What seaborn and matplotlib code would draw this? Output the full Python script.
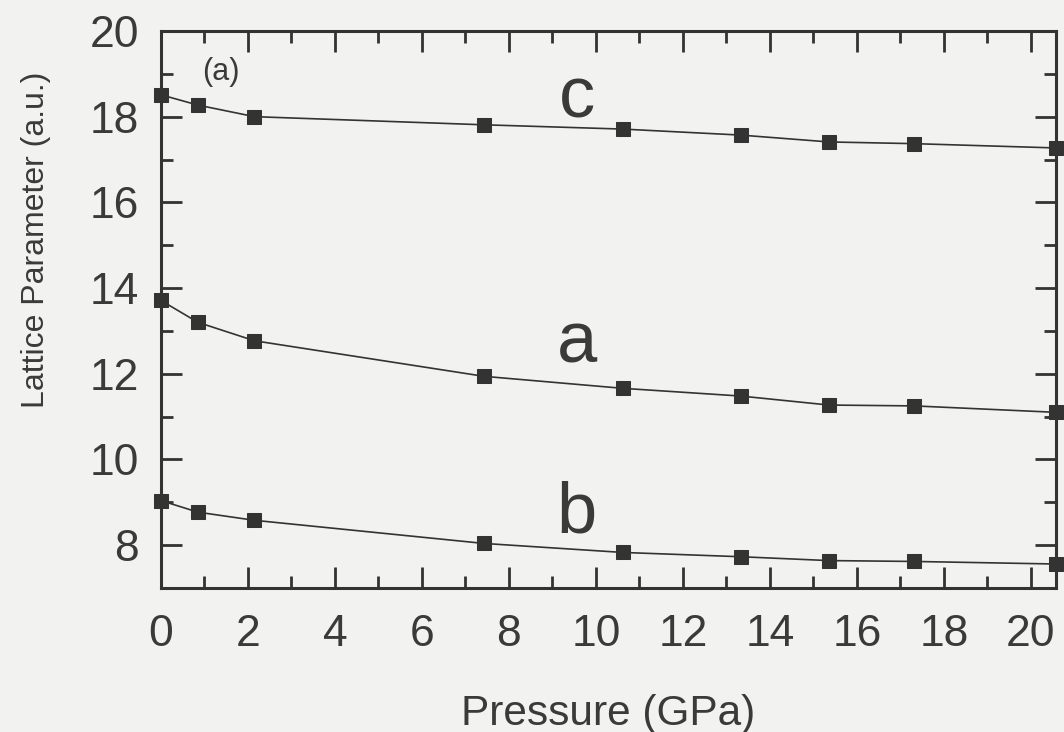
import matplotlib
matplotlib.use("Agg")
import matplotlib.pyplot as plt
import seaborn as sns
import pandas as pd
from matplotlib.ticker import MultipleLocator

# Data
pressure = [0.0, 0.85, 2.15, 7.43, 10.62, 13.33, 15.36, 17.32, 20.58]
lat_c = [18.51, 18.27, 18.00, 17.81, 17.71, 17.57, 17.41, 17.37, 17.27]
lat_a = [13.71, 13.20, 12.77, 11.94, 11.66, 11.48, 11.27, 11.25, 11.10]
lat_b = [9.04, 8.77, 8.58, 8.04, 7.83, 7.73, 7.64, 7.62, 7.56]
series_names = ["c", "a", "b"]
x_ticks = [0, 2, 4, 6, 8, 10, 12, 14, 16, 18, 20]
y_ticks = [8, 10, 12, 14, 16, 18, 20]

sns.set_theme(style="ticks")
plt.rcParams["font.family"] = ["Liberation Sans", "DejaVu Sans"]

ink = "#333333"
txt = "#3a3a3a"
bg = "#f2f2f0"

fig = plt.figure(figsize=(10.64, 7.32), dpi=100, facecolor=bg)
ax = fig.add_axes([0.1513, 0.1967, 0.9925 - 0.1513, 0.9577 - 0.1967])
ax.set_facecolor(bg)

for name, vals in zip(series_names, [lat_c, lat_a, lat_b]):
    df = pd.DataFrame({"Pressure": pressure, "Lattice": vals})
    sns.lineplot(data=df, x="Pressure", y="Lattice", ax=ax, color=ink,
                 linewidth=1.2, marker="s", markersize=9.5,
                 markeredgecolor=ink, markerfacecolor=ink, clip_on=False)

ax.set_xlim(0, 20.58)
ax.set_ylim(7, 20)
ax.set_xticks(x_ticks)
ax.set_yticks(y_ticks)
ax.xaxis.set_minor_locator(MultipleLocator(1))
ax.yaxis.set_minor_locator(MultipleLocator(1))

for s in ax.spines.values():
    s.set_visible(True)
    s.set_linewidth(2.2)
    s.set_color(ink)

ax.tick_params(which="both", direction="in", top=True, right=True,
               color=ink, width=2.0, labelcolor=txt)
ax.tick_params(which="major", length=15, labelsize=32)
ax.tick_params(axis="x", which="major", pad=19)
ax.tick_params(axis="y", which="major", pad=16)
ax.tick_params(which="minor", length=8.5)

ax.set_xlabel("Pressure (GPa)", fontsize=30.5, color=txt)
ax.set_ylabel("Lattice Parameter (a.u.)", fontsize=23, color=txt)
ax.xaxis.label.set_va("center")
ax.yaxis.label.set_va("center")
ax.xaxis.set_label_coords(0.5, -0.226)
ax.yaxis.set_label_coords(-0.140, 0.625)

ax.text(9.56, 17.99, "c", fontsize=52, color=txt, ha="center", va="baseline")
ax.text(9.56, 12.27, "a", fontsize=52, color=txt, ha="center", va="baseline")
ax.text(9.56, 8.29, "b", fontsize=52, color=txt, ha="center", va="baseline")
ax.text(1.37, 18.85, "(a)", fontsize=22, color=txt, ha="center", va="baseline")

fig.savefig("out.png", dpi=100, facecolor=bg)
